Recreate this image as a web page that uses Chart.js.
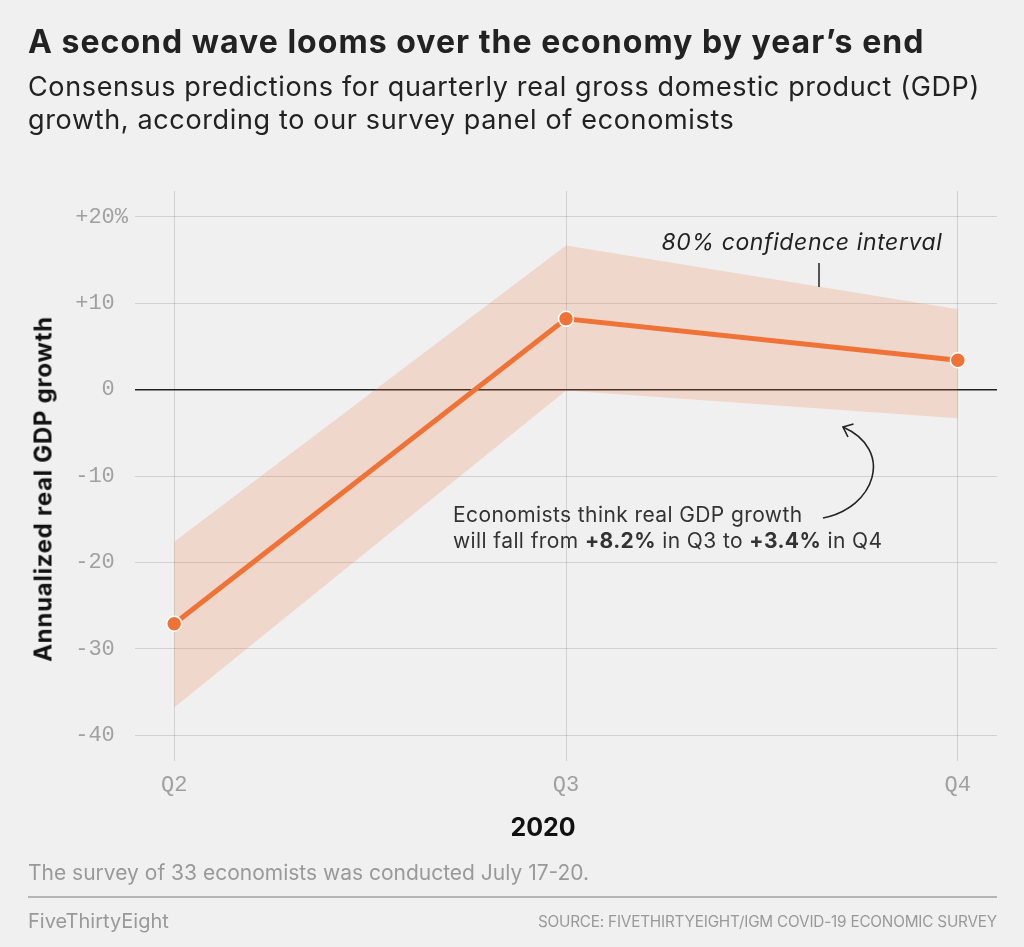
<!DOCTYPE html>
<html>
<head>
<meta charset="utf-8">
<script src="https://cdn.jsdelivr.net/npm/chart.js@4.4.1/dist/chart.umd.min.js"></script>
<style>
  html, body { margin: 0; padding: 0; background: #f0f0f0; }
  body { width: 1024px; height: 947px; position: relative; overflow: hidden; font-family: Inter, "Noto Sans", sans-serif; }
  #wrap { position: absolute; left: 0; top: 0; width: 1024px; height: 947px; }
  .t { position: absolute; white-space: nowrap; pointer-events: none; }
  #title { left: 28px; top: 22px; font-size: 32px; font-weight: 700; color: #222; letter-spacing: 1.03px; }
  #sub { left: 28px; top: 70px; font-size: 27px; font-weight: 400; color: #222; line-height: 33px; letter-spacing: 0.65px; }
  #ytitle { left: 43px; top: 489px; font-size: 24px; font-weight: 700; color: #111; letter-spacing: 0.7px; transform: translate(-50%, -50%) rotate(-90deg); }
  #xtitle { left: 543px; top: 827px; font-size: 25px; font-weight: 700; color: #111; transform: translate(-50%, -50%); }
  #ci { left: 802px; top: 242px; font-size: 23px; font-style: italic; color: #222; letter-spacing: 0.6px; transform: translate(-50%, -50%); }
  #note { left: 453px; top: 502px; font-size: 21px; color: #333; line-height: 26px; letter-spacing: 0.4px; }
  #foot { left: 28px; top: 860px; font-size: 21px; color: #999; }
  #rule { position: absolute; left: 28px; top: 896px; width: 969px; height: 2px; background: #b5b5b5; }
  #brand { left: 28px; top: 909px; font-size: 20px; color: #999; }
  #source { right: 27px; top: 912px; font-size: 15.3px; color: #999; letter-spacing: -0.2px; }
  svg { position: absolute; left: 0; top: 0; pointer-events: none; }
</style>
</head>
<body>
<div id="wrap"><canvas id="c"></canvas></div>
<div class="t" id="title">A second wave looms over the economy by year’s end</div>
<div class="t" id="sub">Consensus predictions for quarterly real gross domestic product (GDP)<br>growth, according to our survey panel of economists</div>
<div class="t" id="ytitle">Annualized real GDP growth</div>
<div class="t" id="xtitle">2020</div>
<div class="t" id="ci">80% confidence interval</div>
<div class="t" id="note">Economists think real GDP growth<br>will fall from <b>+8.2%</b> in Q3 to <b>+3.4%</b> in Q4</div>
<div class="t" id="foot">The survey of 33 economists was conducted July 17-20.</div>
<div id="rule"></div>
<div class="t" id="brand">FiveThirtyEight</div>
<div class="t" id="source">SOURCE: FIVETHIRTYEIGHT/IGM COVID-19 ECONOMIC SURVEY</div>
<svg width="1024" height="947">
  <line x1="819" y1="263" x2="819" y2="287" stroke="#222" stroke-width="1.5"/>
  <path d="M823,518 C875,508 895,450 843,427" fill="none" stroke="#222" stroke-width="1.6"/>
  <path d="M848,437 L843,427 L853.5,424" fill="none" stroke="#222" stroke-width="1.6" stroke-linejoin="miter"/>
</svg>
<script>
const categories = ['Q2', 'Q3', 'Q4'];
const consensus = [-27.1, 8.2, 3.4];
const ciUpper = [-17.6, 16.7, 9.3];
const ciLower = [-36.8, -0.1, -3.3];
const yTickValues = [20, 10, 0, -10, -20, -30, -40];
const yTickLabels = ['+20%', '+10 ', '0 ', '-10 ', '-20 ', '-30 ', '-40 '];

const toPts = arr => arr.map((v, i) => ({ x: i, y: v }));
const tickFont = { family: '"Liberation Mono", "DejaVu Sans Mono", monospace', size: 22 };

new Chart(document.getElementById('c'), {
  type: 'line',
  data: {
    datasets: [
      {
        label: 'Consensus',
        data: toPts(consensus),
        borderColor: '#ef7236',
        backgroundColor: '#ef7236',
        borderWidth: 5,
        pointRadius: 7.5,
        pointBorderColor: '#ffffff',
        pointBorderWidth: 1.5,
        pointBackgroundColor: '#ef7236',
        fill: false,
        tension: 0
      },
      {
        label: 'CI upper',
        data: toPts(ciUpper),
        borderWidth: 0,
        pointRadius: 0,
        fill: false,
        tension: 0
      },
      {
        label: 'CI lower',
        data: toPts(ciLower),
        borderWidth: 0,
        pointRadius: 0,
        fill: '-1',
        backgroundColor: 'rgba(239,114,54,0.2)',
        tension: 0
      }
    ]
  },
  options: {
    responsive: true,
    maintainAspectRatio: false,
    animation: false,
    layout: { padding: { left: 0, right: 27, top: 191, bottom: 0 } },
    plugins: { legend: { display: false }, tooltip: { enabled: false }, title: { display: false } },
    scales: {
      x: {
        type: 'linear',
        min: -0.1,
        max: 2.1,
        afterBuildTicks: s => { s.ticks = categories.map((c, i) => ({ value: i })); },
        afterFit: s => { s.height = 186; },
        ticks: {
          callback: v => categories[v],
          color: '#a0a0a0',
          font: tickFont,
          padding: 11,
          maxRotation: 0
        },
        grid: { color: 'rgba(0,0,0,0.13)', lineWidth: 1, drawTicks: false },
        border: { display: false }
      },
      y: {
        type: 'linear',
        min: -43,
        max: 23,
        afterBuildTicks: s => { s.ticks = yTickValues.map(v => ({ value: v })); },
        afterFit: s => { s.width = 135; },
        ticks: {
          callback: v => yTickLabels[yTickValues.indexOf(v)],
          color: '#a0a0a0',
          font: tickFont,
          padding: 7
        },
        grid: {
          color: ctx => (ctx.tick && ctx.tick.value === 0) ? '#222222' : 'rgba(0,0,0,0.13)',
          lineWidth: ctx => (ctx.tick && ctx.tick.value === 0) ? 1.5 : 1,
          drawTicks: false
        },
        border: { display: false }
      }
    }
  }
});
</script>
</body>
</html>
